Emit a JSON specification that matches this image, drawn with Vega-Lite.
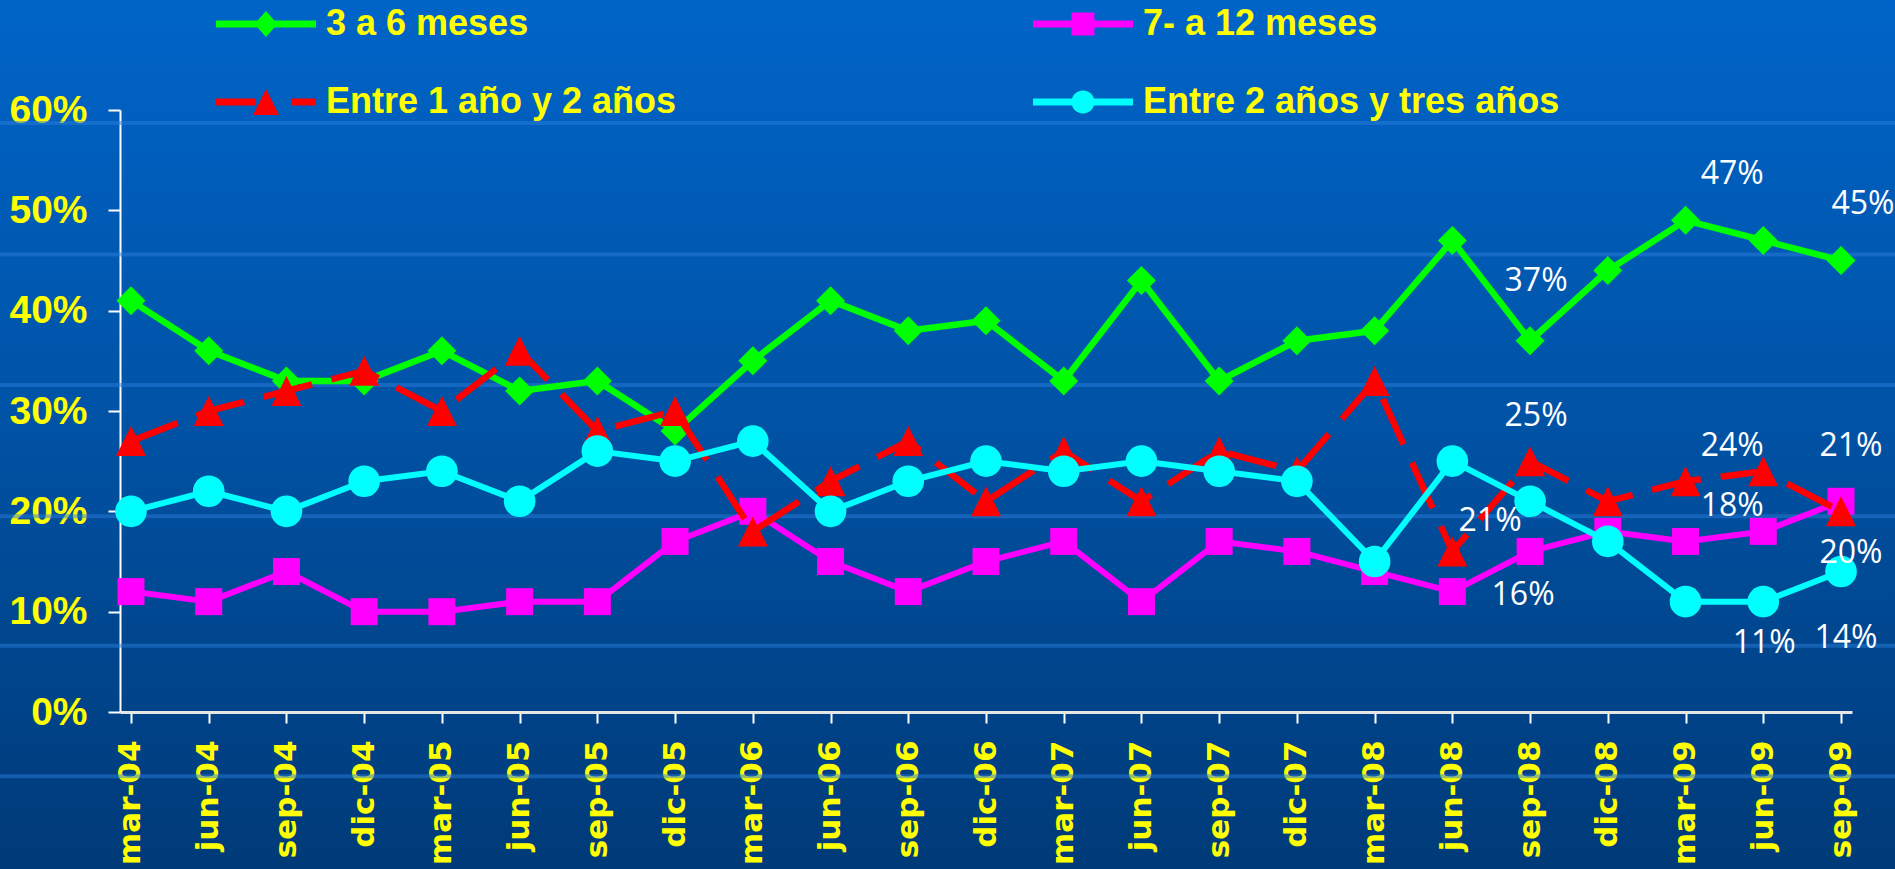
{
  "$schema": "https://vega.github.io/schema/vega-lite/v6.json",
  "width": 1895,
  "height": 869,
  "autosize": "none",
  "padding": 0,
  "background": "#003B7B",
  "view": {
    "stroke": null,
    "fill": {"gradient": "linear", "x1": 0, "y1": 0, "x2": 0, "y2": 1, "stops": [{"offset": 0, "color": "#0064C8"}, {"offset": 0.45, "color": "#0054A8"}, {"offset": 1, "color": "#003A78"}]}
  },
  "datasets": {
    "franjas": [
      {"nivel": 0.587}, {"nivel": 0.456}, {"nivel": 0.326}, {"nivel": 0.195}, {"nivel": 0.066}, {"nivel": -0.064}
    ],
    "series": [
      {"mes": "mar-04", "serie": "3 a 6 meses", "valor": 0.41},
      {"mes": "jun-04", "serie": "3 a 6 meses", "valor": 0.36},
      {"mes": "sep-04", "serie": "3 a 6 meses", "valor": 0.33},
      {"mes": "dic-04", "serie": "3 a 6 meses", "valor": 0.33},
      {"mes": "mar-05", "serie": "3 a 6 meses", "valor": 0.36},
      {"mes": "jun-05", "serie": "3 a 6 meses", "valor": 0.32},
      {"mes": "sep-05", "serie": "3 a 6 meses", "valor": 0.33},
      {"mes": "dic-05", "serie": "3 a 6 meses", "valor": 0.28},
      {"mes": "mar-06", "serie": "3 a 6 meses", "valor": 0.35},
      {"mes": "jun-06", "serie": "3 a 6 meses", "valor": 0.41},
      {"mes": "sep-06", "serie": "3 a 6 meses", "valor": 0.38},
      {"mes": "dic-06", "serie": "3 a 6 meses", "valor": 0.39},
      {"mes": "mar-07", "serie": "3 a 6 meses", "valor": 0.33},
      {"mes": "jun-07", "serie": "3 a 6 meses", "valor": 0.43},
      {"mes": "sep-07", "serie": "3 a 6 meses", "valor": 0.33},
      {"mes": "dic-07", "serie": "3 a 6 meses", "valor": 0.37},
      {"mes": "mar-08", "serie": "3 a 6 meses", "valor": 0.38},
      {"mes": "jun-08", "serie": "3 a 6 meses", "valor": 0.47},
      {"mes": "sep-08", "serie": "3 a 6 meses", "valor": 0.37},
      {"mes": "dic-08", "serie": "3 a 6 meses", "valor": 0.44},
      {"mes": "mar-09", "serie": "3 a 6 meses", "valor": 0.49},
      {"mes": "jun-09", "serie": "3 a 6 meses", "valor": 0.47},
      {"mes": "sep-09", "serie": "3 a 6 meses", "valor": 0.45},
      {"mes": "mar-04", "serie": "7- a 12 meses", "valor": 0.12},
      {"mes": "jun-04", "serie": "7- a 12 meses", "valor": 0.11},
      {"mes": "sep-04", "serie": "7- a 12 meses", "valor": 0.14},
      {"mes": "dic-04", "serie": "7- a 12 meses", "valor": 0.10},
      {"mes": "mar-05", "serie": "7- a 12 meses", "valor": 0.10},
      {"mes": "jun-05", "serie": "7- a 12 meses", "valor": 0.11},
      {"mes": "sep-05", "serie": "7- a 12 meses", "valor": 0.11},
      {"mes": "dic-05", "serie": "7- a 12 meses", "valor": 0.17},
      {"mes": "mar-06", "serie": "7- a 12 meses", "valor": 0.20},
      {"mes": "jun-06", "serie": "7- a 12 meses", "valor": 0.15},
      {"mes": "sep-06", "serie": "7- a 12 meses", "valor": 0.12},
      {"mes": "dic-06", "serie": "7- a 12 meses", "valor": 0.15},
      {"mes": "mar-07", "serie": "7- a 12 meses", "valor": 0.17},
      {"mes": "jun-07", "serie": "7- a 12 meses", "valor": 0.11},
      {"mes": "sep-07", "serie": "7- a 12 meses", "valor": 0.17},
      {"mes": "dic-07", "serie": "7- a 12 meses", "valor": 0.16},
      {"mes": "mar-08", "serie": "7- a 12 meses", "valor": 0.14},
      {"mes": "jun-08", "serie": "7- a 12 meses", "valor": 0.12},
      {"mes": "sep-08", "serie": "7- a 12 meses", "valor": 0.16},
      {"mes": "dic-08", "serie": "7- a 12 meses", "valor": 0.18},
      {"mes": "mar-09", "serie": "7- a 12 meses", "valor": 0.17},
      {"mes": "jun-09", "serie": "7- a 12 meses", "valor": 0.18},
      {"mes": "sep-09", "serie": "7- a 12 meses", "valor": 0.21},
      {"mes": "mar-04", "serie": "Entre 1 año y 2 años", "valor": 0.27},
      {"mes": "jun-04", "serie": "Entre 1 año y 2 años", "valor": 0.30},
      {"mes": "sep-04", "serie": "Entre 1 año y 2 años", "valor": 0.32},
      {"mes": "dic-04", "serie": "Entre 1 año y 2 años", "valor": 0.34},
      {"mes": "mar-05", "serie": "Entre 1 año y 2 años", "valor": 0.30},
      {"mes": "jun-05", "serie": "Entre 1 año y 2 años", "valor": 0.36},
      {"mes": "sep-05", "serie": "Entre 1 año y 2 años", "valor": 0.28},
      {"mes": "dic-05", "serie": "Entre 1 año y 2 años", "valor": 0.30},
      {"mes": "mar-06", "serie": "Entre 1 año y 2 años", "valor": 0.18},
      {"mes": "jun-06", "serie": "Entre 1 año y 2 años", "valor": 0.23},
      {"mes": "sep-06", "serie": "Entre 1 año y 2 años", "valor": 0.27},
      {"mes": "dic-06", "serie": "Entre 1 año y 2 años", "valor": 0.21},
      {"mes": "mar-07", "serie": "Entre 1 año y 2 años", "valor": 0.26},
      {"mes": "jun-07", "serie": "Entre 1 año y 2 años", "valor": 0.21},
      {"mes": "sep-07", "serie": "Entre 1 año y 2 años", "valor": 0.26},
      {"mes": "dic-07", "serie": "Entre 1 año y 2 años", "valor": 0.24},
      {"mes": "mar-08", "serie": "Entre 1 año y 2 años", "valor": 0.33},
      {"mes": "jun-08", "serie": "Entre 1 año y 2 años", "valor": 0.16},
      {"mes": "sep-08", "serie": "Entre 1 año y 2 años", "valor": 0.25},
      {"mes": "dic-08", "serie": "Entre 1 año y 2 años", "valor": 0.21},
      {"mes": "mar-09", "serie": "Entre 1 año y 2 años", "valor": 0.23},
      {"mes": "jun-09", "serie": "Entre 1 año y 2 años", "valor": 0.24},
      {"mes": "sep-09", "serie": "Entre 1 año y 2 años", "valor": 0.20},
      {"mes": "mar-04", "serie": "Entre 2 años y tres años", "valor": 0.20},
      {"mes": "jun-04", "serie": "Entre 2 años y tres años", "valor": 0.22},
      {"mes": "sep-04", "serie": "Entre 2 años y tres años", "valor": 0.20},
      {"mes": "dic-04", "serie": "Entre 2 años y tres años", "valor": 0.23},
      {"mes": "mar-05", "serie": "Entre 2 años y tres años", "valor": 0.24},
      {"mes": "jun-05", "serie": "Entre 2 años y tres años", "valor": 0.21},
      {"mes": "sep-05", "serie": "Entre 2 años y tres años", "valor": 0.26},
      {"mes": "dic-05", "serie": "Entre 2 años y tres años", "valor": 0.25},
      {"mes": "mar-06", "serie": "Entre 2 años y tres años", "valor": 0.27},
      {"mes": "jun-06", "serie": "Entre 2 años y tres años", "valor": 0.20},
      {"mes": "sep-06", "serie": "Entre 2 años y tres años", "valor": 0.23},
      {"mes": "dic-06", "serie": "Entre 2 años y tres años", "valor": 0.25},
      {"mes": "mar-07", "serie": "Entre 2 años y tres años", "valor": 0.24},
      {"mes": "jun-07", "serie": "Entre 2 años y tres años", "valor": 0.25},
      {"mes": "sep-07", "serie": "Entre 2 años y tres años", "valor": 0.24},
      {"mes": "dic-07", "serie": "Entre 2 años y tres años", "valor": 0.23},
      {"mes": "mar-08", "serie": "Entre 2 años y tres años", "valor": 0.15},
      {"mes": "jun-08", "serie": "Entre 2 años y tres años", "valor": 0.25},
      {"mes": "sep-08", "serie": "Entre 2 años y tres años", "valor": 0.21},
      {"mes": "dic-08", "serie": "Entre 2 años y tres años", "valor": 0.17},
      {"mes": "mar-09", "serie": "Entre 2 años y tres años", "valor": 0.11},
      {"mes": "jun-09", "serie": "Entre 2 años y tres años", "valor": 0.11},
      {"mes": "sep-09", "serie": "Entre 2 años y tres años", "valor": 0.14}
    ]
  },
  "layer": [
    {
      "data": {"name": "franjas"},
      "mark": {"type": "rule", "stroke": "#2A7BDA", "strokeWidth": 4, "opacity": 0.5},
      "encoding": {
        "y": {
          "field": "nivel", "type": "quantitative",
          "scale": {"domain": [0, 0.6], "range": [712, 110], "nice": false, "zero": false},
          "axis": {"values": [0, 0.1, 0.2, 0.3, 0.4, 0.5, 0.6], "format": ".0%", "offset": -120, "title": null, "labelFont": "Liberation Sans", "labelFontWeight": "bold", "labelFontSize": 39, "labelColor": "#FFFF00", "labelPadding": 21, "labelFlush": false, "tickSize": 12, "tickWidth": 2, "tickColor": "#FFFFFF", "domainColor": "#FFFFFF", "domainWidth": 2, "grid": false}
        }
      }
    },
    {
      "data": {"name": "series"},
      "encoding": {
        "x": {
          "field": "mes", "type": "nominal",
          "scale": {"type": "point", "domain": ["mar-04", "jun-04", "sep-04", "dic-04", "mar-05", "jun-05", "sep-05", "dic-05", "mar-06", "jun-06", "sep-06", "dic-06", "mar-07", "jun-07", "sep-07", "dic-07", "mar-08", "jun-08", "sep-08", "dic-08", "mar-09", "jun-09", "sep-09"], "range": [120, 1852], "padding": 0.1415},
          "axis": {"offset": -157, "title": null, "labelAngle": -90, "labelFont": "DejaVu Sans", "labelFontWeight": "bold", "labelFontSize": 31, "labelColor": "#FFFF00", "labelPadding": 17, "tickSize": 11, "tickWidth": 2, "tickColor": "#FFFFFF", "domainColor": "#E6E6E6", "domainWidth": 3, "grid": false, "labelOverlap": false}
        },
        "y": {
          "field": "valor", "type": "quantitative",
          "scale": {"domain": [0, 0.6], "range": [712, 110], "nice": false, "zero": false},
          "axis": {"values": [0, 0.1, 0.2, 0.3, 0.4, 0.5, 0.6], "format": ".0%", "offset": -120, "title": null, "labelFont": "Liberation Sans", "labelFontWeight": "bold", "labelFontSize": 39, "labelColor": "#FFFF00", "labelPadding": 21, "labelFlush": false, "tickSize": 12, "tickWidth": 2, "tickColor": "#FFFFFF", "domainColor": "#FFFFFF", "domainWidth": 2, "grid": false}
        },
        "color": {
          "field": "serie", "type": "nominal",
          "scale": {"domain": ["3 a 6 meses", "7- a 12 meses", "Entre 1 año y 2 años", "Entre 2 años y tres años"], "range": ["#00FF00", "#FF00FF", "#FF0000", "#00FFFF"]},
          "legend": {
            "orient": "none", "legendX": 241, "legendY": -1, "direction": "horizontal", "columns": 2, "title": null,
            "labelFont": "Liberation Sans", "labelFontWeight": "bold", "labelFontSize": 36, "labelColor": "#FFFF00", "labelLimit": 0,
            "labelOffset": 35, "symbolSize": 2500, "rowPadding": 35, "columnPadding": 356, "padding": 0, "symbolStrokeWidth": 0, "symbolOpacity": 1
          }
        }
      },
      "layer": [
        {
          "mark": {"type": "point", "filled": true, "opacity": 0, "size": 2500},
          "encoding": {
            "shape": {
              "field": "serie", "type": "nominal",
              "scale": {"domain": ["3 a 6 meses", "7- a 12 meses", "Entre 1 año y 2 años", "Entre 2 años y tres años"], "range": ["M-2,-0.14H2V0.14H-2Z M0,-0.52L0.46,0L0,0.52L-0.46,0Z", "M-2,-0.14H2V0.14H-2Z M-0.46,-0.46H0.46V0.46H-0.46Z", "M-2,-0.14H-0.4V0.14H-2Z M1.04,-0.14H2V0.14H1.04Z M0,-0.52L0.52,0.52H-0.52Z", "M-2,-0.14H2V0.14H-2Z M-0.46,0A0.46,0.46 0 1,1 0.46,0A0.46,0.46 0 1,1 -0.46,0Z"]},
              "legend": {
                "orient": "none", "legendX": 241, "legendY": -1, "direction": "horizontal", "columns": 2, "title": null,
                "labelFont": "Liberation Sans", "labelFontWeight": "bold", "labelFontSize": 36, "labelColor": "#FFFF00", "labelLimit": 0,
                "labelOffset": 35, "symbolSize": 2500, "rowPadding": 35, "columnPadding": 356, "padding": 0, "symbolStrokeWidth": 0, "symbolOpacity": 1
              }
            }
          }
        },
        {
          "transform": [{"filter": {"field": "serie", "equal": "3 a 6 meses"}}],
          "mark": {"type": "line", "strokeWidth": 6.5, "strokeJoin": "round", "point": {"shape": "diamond", "size": 841, "filled": true, "opacity": 1}}
        },
        {
          "transform": [{"filter": {"field": "serie", "equal": "7- a 12 meses"}}],
          "mark": {"type": "line", "strokeWidth": 6, "strokeJoin": "round", "point": {"shape": "square", "size": 729, "filled": true, "opacity": 1}}
        },
        {
          "transform": [{"filter": {"field": "serie", "equal": "Entre 1 año y 2 años"}}],
          "mark": {"type": "line", "strokeWidth": 6.5, "strokeJoin": "round", "strokeCap": "butt", "strokeDash": [50, 20], "point": {"shape": "M0,-1L1,1L-1,1Z", "size": 900, "filled": true, "opacity": 1}}
        },
        {
          "transform": [{"filter": {"field": "serie", "equal": "Entre 2 años y tres años"}}],
          "mark": {"type": "line", "strokeWidth": 6, "strokeJoin": "round", "point": {"shape": "circle", "size": 1000, "filled": true, "opacity": 1}}
        },
        {
          "transform": [{"filter": {"field": "mes", "oneOf": ["sep-08", "jun-09", "sep-09"]}}],
          "mark": {
            "type": "text", "font": "Open Sans", "fontSize": 32, "align": "center", "baseline": "middle",
            "dx": {"expr": "datum.mes == 'sep-08' ? (datum.serie == 'Entre 2 años y tres años' ? -40 : datum.serie == '7- a 12 meses' ? -7 : 6) : datum.mes == 'jun-09' ? (datum.serie == 'Entre 2 años y tres años' ? 1 : -31) : (datum.serie == '3 a 6 meses' ? 22 : datum.serie == 'Entre 2 años y tres años' ? 5 : 10)"},
            "dy": {"expr": "datum.mes == 'sep-08' ? (datum.serie == '3 a 6 meses' ? -60 : datum.serie == 'Entre 1 año y 2 años' ? -45 : datum.serie == 'Entre 2 años y tres años' ? 20 : 44) : datum.mes == 'jun-09' ? (datum.serie == '3 a 6 meses' ? -66 : datum.serie == 'Entre 2 años y tres años' ? 41 : -25) : (datum.serie == '3 a 6 meses' ? -57 : datum.serie == '7- a 12 meses' ? -55 : datum.serie == 'Entre 1 año y 2 años' ? 42 : 66)"}
          },
          "encoding": {
            "text": {"field": "valor", "type": "quantitative", "format": ".0%"},
            "color": {"value": "#FFFFFF"}
          }
        }
      ]
    }
  ]
}
